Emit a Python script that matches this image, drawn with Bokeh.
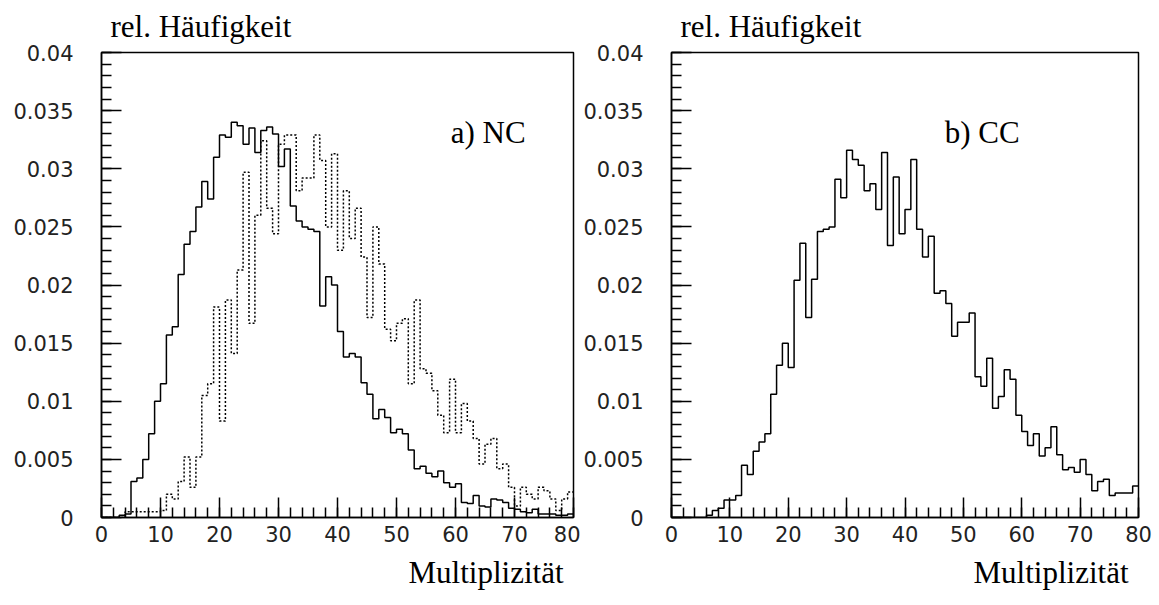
import numpy as np
from bokeh.plotting import figure
from bokeh.models import FixedTicker, Label, Range1d, Title
from bokeh.layouts import row
from bokeh.embed import file_html
from bokeh.resources import INLINE

# ---------------- data ----------------
bin_edges = list(range(0, 81))

nc_solid = [0, 0, 0, 0.0002, 0.0003, 0.0031, 0.0034, 0.0050, 0.0072, 0.0100,
            0.0115, 0.0157, 0.0164, 0.0209, 0.0235, 0.0246, 0.0267, 0.0289, 0.0274, 0.0310,
            0.0329, 0.0327, 0.0340, 0.0337, 0.0321, 0.0335, 0.0314, 0.0333, 0.0336, 0.0330,
            0.0302, 0.0317, 0.0268, 0.0255, 0.0250, 0.0248, 0.0246, 0.0182, 0.0207, 0.0200,
            0.0160, 0.0138, 0.0141, 0.0138, 0.0116, 0.0106, 0.0085, 0.0093, 0.0086, 0.0073,
            0.0076, 0.0072, 0.0058, 0.0042, 0.0044, 0.0038, 0.0035, 0.0040, 0.0030, 0.0026,
            0.0029, 0.0013, 0.0012, 0.0019, 0.0010, 0.0009, 0.0016, 0.0015, 0.0013, 0.0008,
            0.0007, 0.0005, 0.0004, 0.0007, 0.0003, 0.0003, 0.0003, 0.0002, 0.0002, 0.0003]

nc_dotted = [0, 0, 0, 0, 0.0005, 0.0005, 0.0005, 0.0005, 0.0005, 0.0005,
             0.0006, 0.0020, 0.0016, 0.0031, 0.0052, 0.0026, 0.0052, 0.0105, 0.0115, 0.0181,
             0.0083, 0.0187, 0.0141, 0.0213, 0.0297, 0.0167, 0.0260, 0.0324, 0.0266, 0.0244,
             0.0321, 0.0329, 0.0329, 0.0281, 0.0292, 0.0292, 0.0329, 0.0307, 0.0250, 0.0313,
             0.0230, 0.0281, 0.0240, 0.0266, 0.0224, 0.0172, 0.0250, 0.0218, 0.0162, 0.0152,
             0.0167, 0.0171, 0.0115, 0.0187, 0.0128, 0.0124, 0.0109, 0.0088, 0.0073, 0.0119,
             0.0073, 0.0098, 0.0083, 0.0068, 0.0046, 0.0063, 0.0068, 0.0042, 0.0046, 0.0026,
             0.0010, 0.0026, 0.0020, 0.0016, 0.0026, 0.0023, 0.0016, 0.0006, 0.0016, 0.0022]

cc_solid = [0, 0, 0, 0, 0, 0, 0.0002, 0.0006, 0.0008, 0.0015,
            0.0015, 0.0019, 0.0045, 0.0037, 0.0057, 0.0065, 0.0072, 0.0106, 0.0131, 0.0150,
            0.0129, 0.0204, 0.0236, 0.0172, 0.0205, 0.0246, 0.0248, 0.0250, 0.0291, 0.0275,
            0.0316, 0.0308, 0.0303, 0.0281, 0.0287, 0.0265, 0.0314, 0.0234, 0.0293, 0.0244,
            0.0265, 0.0308, 0.0248, 0.0224, 0.0242, 0.0193, 0.0195, 0.0184, 0.0156, 0.0168,
            0.0168, 0.0176, 0.0121, 0.0113, 0.0137, 0.0094, 0.0104, 0.0127, 0.0119, 0.0088,
            0.0074, 0.0062, 0.0072, 0.0053, 0.0060, 0.0078, 0.0054, 0.0041, 0.0043, 0.0039,
            0.0050, 0.0037, 0.0023, 0.0031, 0.0033, 0.0019, 0.0021, 0.0021, 0.0021, 0.0027]

x_ticks = [0, 10, 20, 30, 40, 50, 60, 70, 80]
x_tick_labels = ["0", "10", "20", "30", "40", "50", "60", "70", "80"]
x_minor = list(range(0, 81, 2))
y_ticks = [0, 0.005, 0.01, 0.015, 0.02, 0.025, 0.03, 0.035, 0.04]
y_tick_labels = ["0", "0.005", "0.01", "0.015", "0.02", "0.025", "0.03", "0.035", "0.04"]
y_minor = [round(i * 0.001, 3) for i in range(0, 41)]

y_title = "rel. Häufigkeit"
x_title = "Multiplizität"
panel_labels = ["a) NC", "b) CC"]

SERIF = "Liberation Serif"
SANS = "DejaVu Sans"


def step_xy(values):
    return bin_edges, list(values) + [values[-1]]


def make_fig(width, border_left, border_right):
    p = figure(width=width, height=605,
               x_range=Range1d(0, 80), y_range=Range1d(0, 0.04),
               output_backend="svg", toolbar_location=None,
               min_border_left=border_left, min_border_right=border_right,
               min_border_top=52, min_border_bottom=88)
    p.background_fill_color = "white"
    p.border_fill_color = "white"
    p.grid.visible = False
    p.outline_line_color = "black"
    p.outline_line_width = 1.5
    p.outline_line_alpha = 1.0

    # title above (y quantity)
    p.title.text = y_title
    p.title.align = "left"
    p.title.vertical_align = "top"
    p.title.offset = 9
    p.title.standoff = 14
    p.title.text_font = SERIF
    p.title.text_font_size = "31px"
    p.title.text_font_style = "normal"
    p.title.text_color = "black"

    xa = p.xaxis[0]
    xa.ticker = FixedTicker(ticks=x_ticks, minor_ticks=x_minor)
    xa.major_label_overrides = {t: l for t, l in zip(x_ticks, x_tick_labels)}
    ya = p.yaxis[0]
    ya.ticker = FixedTicker(ticks=y_ticks, minor_ticks=y_minor)
    ya.major_label_overrides = {t: l for t, l in zip(y_ticks, y_tick_labels)}

    for ax in (xa, ya):
        ax.axis_line_color = "black"
        ax.axis_line_width = 1.5
        ax.major_tick_in = 20
        ax.major_tick_out = 0
        ax.minor_tick_in = 10
        ax.minor_tick_out = 0
        ax.major_tick_line_width = 1.5
        ax.minor_tick_line_width = 1.5
        ax.major_tick_line_color = "black"
        ax.minor_tick_line_color = "black"
        ax.major_label_text_font = SANS
        ax.major_label_text_font_size = "21px"
        ax.major_label_text_color = "#222222"
    xa.major_label_standoff = 8
    ya.major_label_standoff = 28

    # x quantity below the axis, right-aligned
    xt = Title(text=x_title, align="right", offset=10, standoff=17,
               vertical_align="bottom",
               text_font=SERIF, text_font_size="31px", text_font_style="normal",
               text_color="black")
    p.add_layout(xt, "below")
    return p


p1 = make_fig(580, 101, 7)
xs, ys = step_xy(nc_dotted)
p1.step(xs, ys, mode="after", line_color="black", line_width=1.5, line_dash="2 2")
xs, ys = step_xy(nc_solid)
p1.step(xs, ys, mode="after", line_color="black", line_width=1.5)
p1.add_layout(Label(x=59.2, y=0.03312, text=panel_labels[0], text_font=SERIF,
                    text_font_size="31px", text_color="black",
                    text_baseline="alphabetic", text_align="left"))

p2 = make_fig(579, 88, 21)
xs, ys = step_xy(cc_solid)
p2.step(xs, ys, mode="after", line_color="black", line_width=1.5)
p2.add_layout(Label(x=46.8, y=0.03312, text=panel_labels[1], text_font=SERIF,
                    text_font_size="31px", text_color="black",
                    text_baseline="alphabetic", text_align="left"))

layout = row(p1, p2)
open("out.html", "w").write(file_html(layout, INLINE))
